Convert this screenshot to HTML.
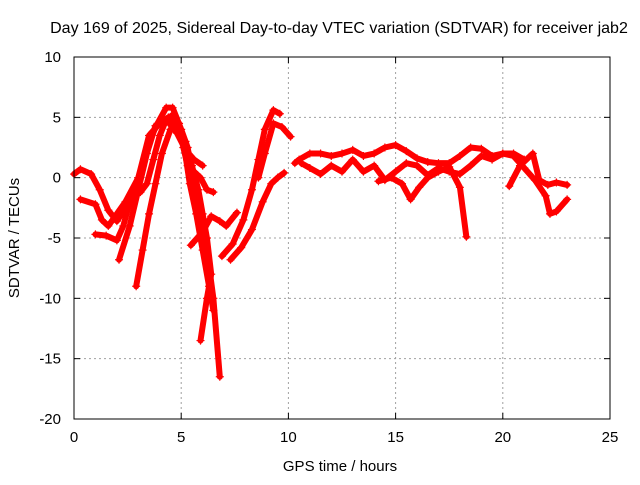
<!DOCTYPE html>
<html><head><meta charset="utf-8"><style>
body{margin:0;background:#fff;}
svg text{font-family:"Liberation Sans",sans-serif;font-size:15px;fill:#000;}
</style></head><body>
<svg id="chart" width="640" height="480">
<rect width="640" height="480" fill="#fff"/>
<text x="339" y="33" text-anchor="middle" style="font-size:16px">Day 169 of 2025, Sidereal Day-to-day VTEC variation (SDTVAR) for receiver jab2</text>
<text x="340" y="471" text-anchor="middle">GPS time / hours</text>
<text transform="translate(19,238) rotate(-90)" text-anchor="middle">SDTVAR / TECUs</text>
<g id="grid"></g><g id="ticks"></g><g id="marks"></g>
<rect x="74" y="57" width="536" height="362" fill="none" stroke="#000" stroke-width="1"/>
</svg>
<script>
const xTicks=[0,5,10,15,20,25];
const yTicks=[10,5,0,-5,-10,-15,-20];
const track1=[[0,0.3],[0.3,0.7],[0.8,0.3],[1.2,-1],[1.6,-2.7],[2,-3.6],[2.4,-2.5],[2.8,-1.5],[3.1,-1.2],[3.4,-0.5],[3.7,1.5],[4,3.5],[4.3,4.8],[4.6,5.2],[4.9,4.5],[5.1,2.5],[5.3,1],[5.6,0.5],[5.9,0],[6.2,-1],[6.5,-1.2]];
const track2=[[0.3,-1.8],[1,-2.2],[1.3,-3.5],[1.6,-4],[2,-3],[2.4,-2],[3,0],[3.5,3],[3.9,4.5],[4.3,5.8],[4.6,5.8],[5,4],[5.3,2.5],[5.5,0.5],[5.7,-1.5],[6,-4],[6.2,-6],[6.5,-10],[6.8,-16.5]];
const track3=[[1,-4.7],[1.5,-4.8],[2,-5.2],[2.3,-4],[2.6,-2],[3,0],[3.5,3.5],[4,4.5],[4.4,5],[4.8,4.5],[5.2,3],[5.5,1],[5.8,-1],[6,-3],[6.2,-5],[6.4,-8],[6.2,-10],[5.9,-13.5]];
const track4=[[2.1,-6.8],[2.6,-4],[3,-1],[3.4,2],[3.8,4.3],[4.1,4.6],[4.4,4.6],[4.8,3.7],[5.2,2.3],[5.6,1.5],[6,1]];
const track5=[[2.9,-9],[3.2,-6],[3.5,-3],[3.8,-0.5],[4.1,2],[4.5,4],[4.8,4.5],[5.1,3],[5.4,-0.5],[5.7,-3],[6,-6],[6.3,-9],[6.5,-11]];
const track6=[[5.45,-5.6],[6,-4.5],[6.4,-3.2],[6.8,-3.6],[7.1,-4],[7.6,-2.9]];
const track7=[[6.9,-6.5],[7.4,-5.5],[7.9,-3.5],[8.3,-1],[8.6,1.5],[8.9,4],[9.3,5.6],[9.6,5.3]];
const track8=[[7.3,-6.8],[7.8,-5.8],[8.3,-4.3],[8.8,-2],[9.2,-0.5],[9.5,0],[9.8,0.4]];
const track9=[[8.6,0],[8.9,2],[9.3,4.5],[9.7,4.2],[10.1,3.4]];
const track10=[[10.3,1.2],[10.5,1.5],[11,2],[11.5,2],[12,1.8],[12.5,2],[13,2.3],[13.5,1.8],[14,2],[14.5,2.5],[15,2.7],[15.5,2.2],[16,1.6],[16.5,1.3],[17,1.2],[17.5,1.2],[18,1.8],[18.5,2.5],[19,2.4],[19.5,1.8],[20,2],[20.5,2],[21,1.5]];
const track11=[[10.6,1.2],[11,0.8],[11.5,0.3],[12,1],[12.5,0.5],[13,1.5],[13.5,0.5],[14,1],[14.5,-0.2],[15,0.5],[15.5,1.2],[16,1],[16.5,0.2],[17,0.8],[17.5,0.5],[18,0.3],[18.5,1],[19,1.8],[19.5,1.5],[20,2],[20.5,1.8],[21,0.8],[21.5,-0.2],[22,-1.5],[22.2,-3],[22.5,-2.8],[23,-1.8]];
const track12=[[14.2,-0.3],[14.8,0],[15.3,-0.5],[15.7,-1.8],[16.1,-0.8],[16.5,0],[17,0.5],[17.5,0.9],[18,-0.8],[18.3,-4.9]];
const track13=[[20.3,-0.7],[20.8,1],[21.4,2],[21.7,-0.2],[22.1,-0.6],[22.5,-0.4],[23,-0.6]];
const tracks=[track1,track2,track3,track4,track5,track6,track7,track8,track9,track10,track11,track12,track13];
const NS='http://www.w3.org/2000/svg';
const X=v=>74+v*(536/25);
const Y=v=>419-(v+20)*(362/30);
const grid=document.getElementById('grid'),ticks=document.getElementById('ticks'),marks=document.getElementById('marks');
function mk(t,a,p){const e=document.createElementNS(NS,t);for(const k in a)e.setAttribute(k,a[k]);p.appendChild(e);return e;}
xTicks.forEach(v=>{const x=X(v);
 if(v>0&&v<25){const g=mk('line',{x1:x,x2:x,y1:57,y2:419,stroke:'#a0a0a0','stroke-dasharray':'2,3'},grid);
 
 }
 mk('line',{x1:x,x2:x,y1:419,y2:413,stroke:'#000'},ticks);mk('line',{x1:x,x2:x,y1:57,y2:63,stroke:'#000'},ticks);
 const t=mk('text',{x:x,y:442,'text-anchor':'middle'},ticks);t.textContent=v;
 
 });
yTicks.forEach(v=>{const y=Y(v);
 if(v>-20&&v<10){const g=mk('line',{x1:74,x2:610,y1:y,y2:y,stroke:'#a0a0a0','stroke-dasharray':'2,3'},grid);
 
 }
 mk('line',{x1:74,x2:80,y1:y,y2:y,stroke:'#000'},ticks);mk('line',{x1:610,x2:604,y1:y,y2:y,stroke:'#000'},ticks);
 const t=mk('text',{x:61,y:y+5,'text-anchor':'end'},ticks);t.textContent=v;
 
 });
tracks.forEach((tr,i)=>{
 const g=mk('g',{},marks);
 
 
 mk('polyline',{points:tr.map(p=>X(p[0])+','+Y(p[1])).join(' '),fill:'none',stroke:'#f00','stroke-width':6,'stroke-linejoin':'round','stroke-linecap':'round'},g);
 tr.forEach(p=>{const x=X(p[0]),y=Y(p[1]);
  const c=mk('path',{d:`M${x-4},${y}H${x+4}M${x},${y-4}V${y+4}`,stroke:'#f00','stroke-width':1.2},g);
  
  });
});
</script>
</body></html>
